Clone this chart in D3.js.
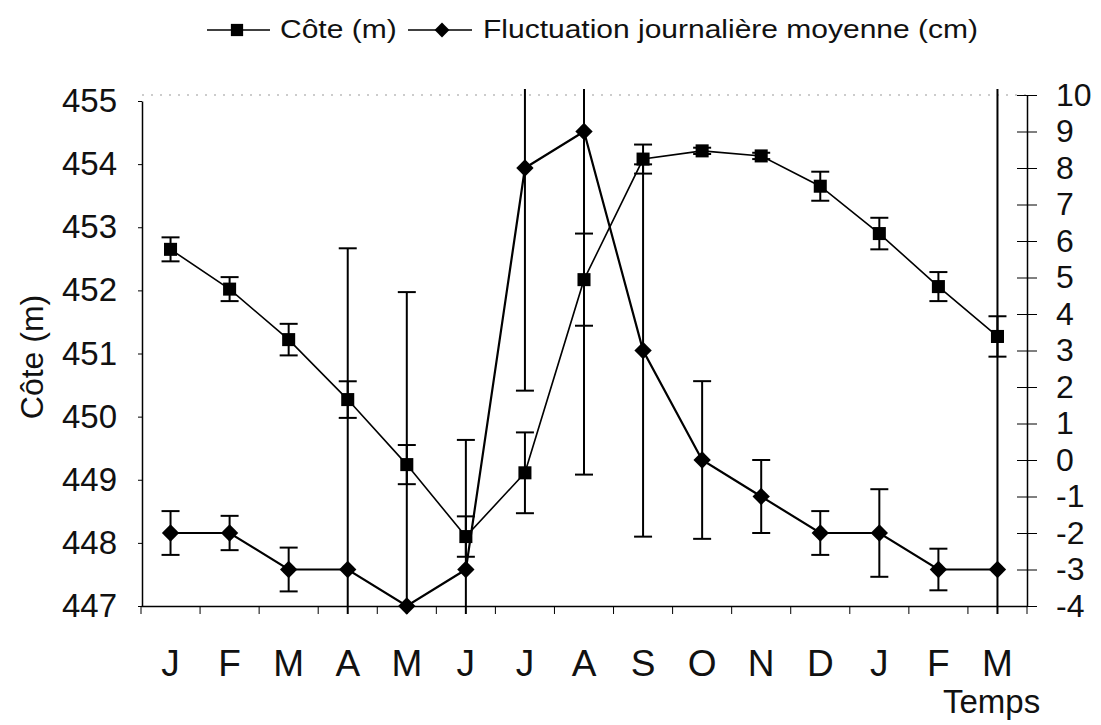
<!DOCTYPE html>
<html>
<head>
<meta charset="utf-8">
<script src="https://cdn.jsdelivr.net/npm/d3@7"></script>
<style>
body { margin: 0; background: #fff; }
svg { display: block; font-family: "Liberation Sans", Arial, sans-serif; }
</style>
</head>
<body>
<svg width="1101" height="725"></svg>
<script>
// months (Jan of year 1 .. Mar of year 2)
var months = ["J", "F", "M", "A", "M", "J", "J", "A", "S", "O", "N", "D", "J", "F", "M"];

// water level (m) and its error
var cote    = [452.65, 452.02, 451.22, 450.27, 449.24, 448.10, 449.11, 452.17, 454.08, 454.21, 454.13, 453.65, 452.90, 452.06, 451.27];
var coteErr = [0.19, 0.19, 0.25, 0.29, 0.31, 0.32, 0.64, 0.73, 0.23, 0.05, 0.05, 0.23, 0.25, 0.23, 0.32];

// mean daily fluctuation (cm) and its error
var fluct    = [-2, -2, -3, -3, -4, -3, 8, 9, 3, 0, -1, -2, -2, -3, -3];
var fluctErr = [0.6, 0.47, 0.6, 8.8, 8.6, 3.55, 6.1, 9.4, 5.1, 2.16, 1.0, 0.6, 1.2, 0.57, 14];

var leftTicks = d3.range(447, 456);
var rightTicks = d3.range(-4, 11);

var svg = d3.select('svg');

var x = d3.scaleBand().domain(d3.range(months.length)).range([141, 1027]);
var yL = d3.scaleLinear().domain([447, 455]).range([606, 101]);
var yR = d3.scaleLinear().domain([-4, 10]).range([606, 95]);
var cx = function(i) { return x(i) + x.bandwidth() / 2; };

// clip for the long error bars
svg.append('defs').append('clipPath').attr('id', 'plot-clip')
  .append('rect').attr('x', 120).attr('y', 89).attr('width', 940).attr('height', 525);

// faint top border (scan artefact look)
svg.append('line')
  .attr('x1', 142).attr('x2', 1027).attr('y1', 95).attr('y2', 95)
  .attr('stroke', '#999').attr('stroke-width', 1).attr('stroke-dasharray', '2,7');

// left axis
var gL = svg.append('g').attr('transform', 'translate(142,0)')
  .call(d3.axisLeft(yL).tickValues(leftTicks).tickSize(4).tickSizeOuter(0).tickPadding(21)
    .tickFormat(function(d) { return String(d); }));
gL.selectAll('text').style('font-size', '33px').attr('fill', '#111');
gL.select('.domain').attr('stroke-width', 1.5);

// right axis
var gR = svg.append('g').attr('transform', 'translate(1027,0)')
  .call(d3.axisRight(yR).tickValues(rightTicks).tickSize(10).tickSizeOuter(0).tickPadding(19)
    .tickFormat(function(d) { return String(d); }));
gR.selectAll('.tick line').attr('x1', -10);
gR.selectAll('text').style('font-size', '32px').attr('fill', '#111');
gR.select('.domain').attr('stroke-width', 1.5);

// bottom axis: labels at band centres, ticks at band edges
var gB = svg.append('g').attr('transform', 'translate(0,606)')
  .call(d3.axisBottom(x).tickSize(0).tickSizeOuter(0).tickPadding(44)
    .tickFormat(function(i) { return months[i]; }));
gB.selectAll('text').style('font-size', '37px').attr('fill', '#111');
gB.select('.domain').attr('stroke-width', 1.5);
var edges = x.domain().map(function(i) { return x(i); }).concat([x.range()[1]]);
gB.selectAll('line.edge')
  .data(edges)
  .enter().append('line')
  .attr('class', 'edge')
  .attr('x1', function(d) { return d; }).attr('x2', function(d) { return d; })
  .attr('y1', 0).attr('y2', 8)
  .attr('stroke', '#000').attr('stroke-width', 1);

var plot = svg.append('g').attr('clip-path', 'url(#plot-clip)');

// error bars
function errorBars(vals, errs, y, cls) {
  var g = plot.append('g').attr('class', cls)
    .attr('stroke', '#000').attr('stroke-width', 2).attr('fill', 'none');
  var bars = g.selectAll('g').data(vals).enter().append('g');
  bars.append('line')
    .attr('x1', function(d, i) { return cx(i); }).attr('x2', function(d, i) { return cx(i); })
    .attr('y1', function(d, i) { return y(d + errs[i]); })
    .attr('y2', function(d, i) { return y(d - errs[i]); });
  bars.append('line')
    .attr('x1', function(d, i) { return cx(i) - 9; }).attr('x2', function(d, i) { return cx(i) + 9; })
    .attr('y1', function(d, i) { return y(d + errs[i]); })
    .attr('y2', function(d, i) { return y(d + errs[i]); });
  bars.append('line')
    .attr('x1', function(d, i) { return cx(i) - 9; }).attr('x2', function(d, i) { return cx(i) + 9; })
    .attr('y1', function(d, i) { return y(d - errs[i]); })
    .attr('y2', function(d, i) { return y(d - errs[i]); });
}
errorBars(fluct, fluctErr, yR, 'err-fluct');
errorBars(cote, coteErr, yL, 'err-cote');

// lines
var lineL = d3.line().x(function(d, i) { return cx(i); }).y(function(d) { return yL(d); });
var lineR = d3.line().x(function(d, i) { return cx(i); }).y(function(d) { return yR(d); });

plot.append('path').datum(cote).attr('d', lineL)
  .attr('fill', 'none').attr('stroke', '#000').attr('stroke-width', 1.6);
plot.append('path').datum(fluct).attr('d', lineR)
  .attr('fill', 'none').attr('stroke', '#000').attr('stroke-width', 2.2);

// markers
var square = d3.symbol().type(d3.symbolSquare).size(170);
var diamond = d3.symbol().type(d3.symbolSquare).size(150);

svg.append('g').selectAll('path')
  .data(cote)
  .enter().append('path')
  .attr('d', square)
  .attr('transform', function(d, i) { return 'translate(' + cx(i) + ',' + yL(d) + ')'; })
  .attr('fill', '#000');

svg.append('g').selectAll('path')
  .data(fluct)
  .enter().append('path')
  .attr('d', diamond)
  .attr('transform', function(d, i) { return 'translate(' + cx(i) + ',' + yR(d) + ') rotate(45)'; })
  .attr('fill', '#000');

// axis titles
svg.append('text')
  .attr('transform', 'translate(43,357) rotate(-90)')
  .attr('text-anchor', 'middle')
  .style('font-size', '32px')
  .attr('fill', '#111')
  .text('Côte (m)');

svg.append('text')
  .attr('x', 943).attr('y', 713)
  .style('font-size', '33px')
  .attr('fill', '#111')
  .text('Temps');

// legend
var legend = svg.append('g');
legend.append('line').attr('x1', 207).attr('x2', 270).attr('y1', 30).attr('y2', 30)
  .attr('stroke', '#000').attr('stroke-width', 1.6);
legend.append('path').attr('d', d3.symbol().type(d3.symbolSquare).size(150))
  .attr('transform', 'translate(237,30)').attr('fill', '#000');
legend.append('text')
  .attr('transform', 'translate(280,38) scale(1,0.85)')
  .style('font-size', '30px').attr('fill', '#111')
  .text('Côte (m)');

legend.append('line').attr('x1', 408).attr('x2', 472).attr('y1', 30).attr('y2', 30)
  .attr('stroke', '#000').attr('stroke-width', 1.6);
legend.append('path').attr('d', d3.symbol().type(d3.symbolSquare).size(110))
  .attr('transform', 'translate(442,30) rotate(45)').attr('fill', '#000');
legend.append('text')
  .attr('transform', 'translate(483,38) scale(1,0.85)')
  .style('font-size', '30px').attr('fill', '#111')
  .text('Fluctuation journalière moyenne (cm)');
</script>
</body>
</html>
